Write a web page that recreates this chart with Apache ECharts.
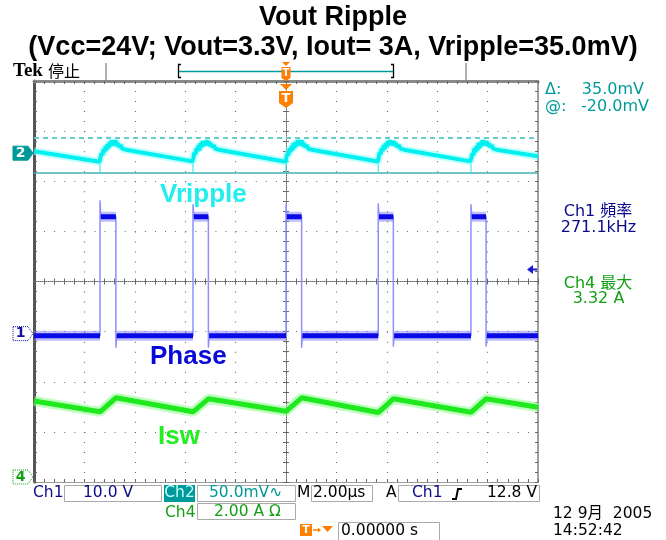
<!DOCTYPE html>
<html><head><meta charset="utf-8">
<script src="https://cdn.jsdelivr.net/npm/echarts@6/dist/echarts.min.js"></script>
<style>html,body{margin:0;padding:0;background:#fff}#c{width:666px;height:540px}</style>
</head><body><div id="c"></div>
<script>
// ---- data (time in µs relative to trigger) ----
const timeRangeUs = [-10, 10];          // 2.00 µs/div, 10 divisions
const divRange = [-4, 4];               // 8 vertical divisions
const chScale = { ch1: 10, ch2: 50, ch4: 2 };           // V/div, mV/div, A/div
const chGroundDiv = { ch1: -1.04, ch2: 2.56, ch4: -3.9 };
const triggerLevelV = 12.8;
const cursorMv = [15, -20];             // Δ 35.0mV, @ -20.0mV

// Phase (Ch1), volts
const phaseV = [
  [-10, -0.4], [-7.38, -0.4], [-7.38, 26.6], [-7.35, 23.3], [-6.75, 23.3], [-6.75, -2.8], [-6.72, -0.4],
  [-3.69, -0.4], [-3.69, 25.8], [-3.66, 23.3], [-3.08, 23.3], [-3.08, -2.8], [-3.05, -0.4],
  [0, -0.4], [0, 25.8], [0.03, 23.3], [0.62, 23.3], [0.62, -2.8], [0.65, -0.4],
  [3.66, -0.4], [3.66, 26.0], [3.69, 23.3], [4.26, 23.3], [4.26, -2.6], [4.29, -0.4],
  [7.34, -0.4], [7.34, 25.8], [7.37, 23.3], [7.94, 23.3], [7.94, -2.6], [7.97, -0.4], [10, -0.4]
];

// Vripple (Ch2, AC), millivolts
const rippleMv = [
  [-10, 2.0], [-7.40, -8.5], [-7.36, -4], [-7.32, 0], [-7.28, -2], [-7.24, 4], [-7.20, 1], [-7.16, 7], [-7.12, 3],
  [-7.08, 9], [-7.04, 5], [-7.00, 11], [-6.96, 7], [-6.92, 13], [-6.88, 8], [-6.84, 12], [-6.80, 9], [-6.76, 13],
  [-6.72, 7], [-6.68, 10], [-6.62, 6], [-6.56, 8], [-6.50, 4.5], [-6.44, 6], [-6.36, 3.5],
  [-3.71, -8.2], [-3.67, -4], [-3.63, 1], [-3.59, -1], [-3.55, 5], [-3.51, 2], [-3.47, 8], [-3.43, 3], [-3.39, 10],
  [-3.35, 6], [-3.31, 12], [-3.27, 7], [-3.23, 12], [-3.19, 8], [-3.15, 13], [-3.11, 9], [-3.07, 12], [-3.03, 7],
  [-2.99, 10], [-2.93, 6], [-2.87, 8], [-2.81, 4.5], [-2.75, 6], [-2.67, 3.5],
  [-0.02, -8.5], [0.02, -4], [0.06, 0], [0.10, -2], [0.14, 5], [0.18, 1], [0.22, 7], [0.26, 3], [0.30, 10],
  [0.34, 5], [0.38, 11], [0.42, 7], [0.46, 13], [0.50, 8], [0.54, 12], [0.58, 9], [0.62, 13], [0.66, 7],
  [0.70, 10], [0.76, 6], [0.82, 8], [0.88, 4.5], [0.94, 6], [1.02, 3.5],
  [3.64, -8.3], [3.68, -4], [3.72, 1], [3.76, -1], [3.80, 5], [3.84, 2], [3.88, 8], [3.92, 4], [3.96, 10],
  [4.00, 6], [4.04, 12], [4.08, 8], [4.12, 13], [4.16, 8], [4.20, 12], [4.24, 9], [4.28, 12], [4.32, 7],
  [4.36, 10], [4.42, 6], [4.48, 8], [4.54, 4.5], [4.60, 6], [4.68, 3.5],
  [7.32, -8.2], [7.36, -4], [7.40, 0], [7.44, -2], [7.48, 5], [7.52, 1], [7.56, 7], [7.60, 3], [7.64, 10],
  [7.68, 5], [7.72, 11], [7.76, 7], [7.80, 13], [7.84, 8], [7.88, 12], [7.92, 9], [7.96, 12], [8.00, 7],
  [8.04, 10], [8.10, 6], [8.16, 8], [8.22, 4.5], [8.28, 6], [8.36, 3.5], [10, -3.0]
];
// switching spikes on Vripple: [time, from mV, to mV]
const rippleSpikesMv = [[-7.38, -6, -20], [-3.69, -6, -20], [0, -6, -20], [3.66, -6, -20], [7.34, -6, -20]];

// Isw (Ch4), amps
const iswA = [
  [-10, 3.03], [-7.38, 2.6], [-6.75, 3.16], [-3.69, 2.6], [-3.08, 3.12], [0, 2.62], [0.62, 3.16],
  [3.66, 2.57], [4.26, 3.12], [7.34, 2.58], [7.94, 3.12], [10, 2.78]
];

// ---- helpers ----
const toDiv = (ch) => (p) => [p[0], chGroundDiv[ch] + p[1] / chScale[ch]];
function plateaus(pts, tol) {
  const out = [];
  for (let i = 0; i < pts.length - 1; i++) {
    const a = pts[i], b = pts[i + 1];
    if (b[0] > a[0] && Math.abs(b[1] - a[1]) <= tol) {
      const last = out[out.length - 1];
      if (!last || last[0] !== a[0] || last[1] !== a[1]) { if (out.length) out.push([a[0], '-']); out.push(a); }
      out.push(b);
    }
  }
  return out;
}
const phaseDiv = phaseV.map(toDiv('ch1'));
const phaseFlat = plateaus(phaseV, 1).map(p => p[1] === '-' ? p : toDiv('ch1')(p));
const rippleDiv = rippleMv.map(toDiv('ch2'));
const spikeSeg = [];
rippleSpikesMv.forEach((s, i) => {
  if (i) spikeSeg.push([s[0], '-']);
  spikeSeg.push(toDiv('ch2')([s[0], s[1]]), toDiv('ch2')([s[0], s[2]]));
});
const iswDiv = iswA.map(toDiv('ch4'));

const G = { left: 34, top: 81, width: 504, height: 401 };
const dotC = '#6a6a6a';
const tickBase = (inside) => ({ show: true, inside: inside, length: 3, lineStyle: { color: '#666', width: 1 } });
const minor = { show: true, splitNumber: 5, length: 3, lineStyle: { color: '#666', width: 1 } };
const xBase = { type: 'value', min: timeRangeUs[0], max: timeRangeUs[1], interval: 2, axisLabel: { show: false }, splitLine: { show: false } };
const yBase = { type: 'value', min: divRange[0], max: divRange[1], interval: 1, axisLabel: { show: false }, splitLine: { show: false } };
const hidden = { type: 'value', show: false, min: 0, max: 1, splitLine: { show: false } };

const line = (data, color, width, opacity, z) => ({
  type: 'line', xAxisIndex: 0, yAxisIndex: 0, data: data, showSymbol: false, symbol: 'none',
  connectNulls: false, silent: true, z: z, lineStyle: { color: color, width: width, opacity: opacity }
});

const chart = echarts.init(document.getElementById('c'), null, { renderer: 'canvas' });
const rippleCore = line(rippleDiv, '#00f0f0', 4, 1, 9);
rippleCore.markLine = {
  silent: true, symbol: 'none', label: { show: false }, animation: false,
  data: [
    { yAxis: chGroundDiv.ch2 + cursorMv[0] / chScale.ch2, lineStyle: { color: '#66cccc', width: 2, type: [5, 4] } },
    { yAxis: chGroundDiv.ch2 + cursorMv[1] / chScale.ch2, lineStyle: { color: '#3fb0b0', width: 1.5, type: 'solid' } }
  ]
};
chart.setOption({
  animation: false,
  grid: [
    Object.assign({}, G),
    { left: G.left, top: G.top, width: G.width, height: G.height / 2 },
    { left: G.left, top: G.top + G.height / 2, width: G.width, height: G.height / 2 },
    { left: G.left, top: G.top, width: G.width / 2, height: G.height },
    { left: G.left + G.width / 2, top: G.top, width: G.width / 2, height: G.height }
  ],
  xAxis: [
    Object.assign({}, xBase, { gridIndex: 0, position: 'bottom',
      axisLine: { show: true, onZero: false, lineStyle: { color: '#9a9a9a', width: 1 } },
      axisTick: tickBase(true), minorTick: minor,
      splitLine: { show: true, lineStyle: { color: dotC, width: 1.2, type: [1, 9.025] } } }),
    Object.assign({}, xBase, { gridIndex: 0, position: 'top',
      axisLine: { show: true, onZero: false, lineStyle: { color: '#8a8a8a', width: 3 } },
      axisTick: tickBase(true), minorTick: minor }),
    Object.assign({}, xBase, { gridIndex: 1, position: 'bottom',
      axisLine: { show: true, onZero: false, lineStyle: { color: '#666', width: 1, type: [1, 1] } },
      axisTick: tickBase(true), minorTick: minor }),
    Object.assign({}, xBase, { gridIndex: 2, position: 'top',
      axisLine: { show: false, onZero: false }, axisTick: tickBase(true), minorTick: minor }),
    Object.assign({}, hidden, { gridIndex: 3 }),
    Object.assign({}, hidden, { gridIndex: 4 })
  ],
  yAxis: [
    Object.assign({}, yBase, { gridIndex: 0, position: 'left',
      axisLine: { show: true, onZero: false, lineStyle: { color: '#555', width: 3 } },
      axisTick: tickBase(true), minorTick: minor,
      splitLine: { show: true, lineStyle: { color: dotC, width: 1.2, type: [1, 9.08] } } }),
    Object.assign({}, yBase, { gridIndex: 0, position: 'right',
      axisLine: { show: true, onZero: false, lineStyle: { color: '#a0a0a0', width: 2 } },
      axisTick: tickBase(true), minorTick: minor }),
    Object.assign({}, hidden, { gridIndex: 1 }),
    Object.assign({}, hidden, { gridIndex: 2 }),
    Object.assign({}, yBase, { gridIndex: 3, position: 'right',
      axisLine: { show: true, onZero: false, lineStyle: { color: '#666', width: 1, type: [1, 1] } },
      axisTick: tickBase(true), minorTick: minor }),
    Object.assign({}, yBase, { gridIndex: 4, position: 'left',
      axisLine: { show: false, onZero: false }, axisTick: tickBase(true), minorTick: minor })
  ],
  series: [
    line(iswDiv, '#8cff8c', 10, 0.55, 3),
    line(iswDiv, '#1fe81f', 5, 1, 4),
    line(phaseDiv, '#8f8fff', 1.5, 1, 5),
    line(phaseFlat, '#7070ff', 10, 0.45, 6),
    line(phaseFlat, '#0a0ae6', 5, 1, 7),
    line(spikeSeg, '#40e8e8', 1.2, 1, 6),
    line(rippleDiv, '#90ffff', 8, 0.55, 8),
    rippleCore
  ]
});

// ---- decorations / texts ----
const px = (t, d) => chart.convertToPixel({ xAxisIndex: 0, yAxisIndex: 0 }, [t, d]);
const SC = '"DejaVu Sans", "Noto Sans CJK SC", sans-serif';
const T = (x, y, text, font, fill, align) => ({ type: 'text', x: x, y: y, z: 100,
  style: { text: text, font: font, fill: fill, textAlign: align || 'left', textVerticalAlign: 'middle' } });
const R = (x, y, w, h, fill, stroke) => ({ type: 'rect', z: 90, shape: { x: x, y: y, width: w, height: h },
  style: { fill: fill, stroke: stroke || null, lineWidth: 1 } });
const PL = (pts, fill, stroke, dash) => ({ type: 'polygon', z: 95, shape: { points: pts },
  style: { fill: fill, stroke: stroke || null, lineWidth: 1, lineDash: dash || null } });
const LN = (pts, stroke, w) => ({ type: 'polyline', z: 95, shape: { points: pts }, style: { stroke: stroke, lineWidth: w, fill: null } });

const g = [];
// titles
g.push(T(333, 18, 'Vout Ripple', 'bold 27px "Liberation Sans", Arial, sans-serif', '#000', 'center'));
g.push(T(333, 48, '(Vcc=24V; Vout=3.3V, Iout= 3A, Vripple=35.0mV)', 'bold 27px "Liberation Sans", Arial, sans-serif', '#000', 'center'));
// Tek header
g.push(T(13, 71, 'Tek', 'bold 19px "Liberation Serif", serif', '#000'));
g.push(T(48, 71, '停止', '16px "Noto Sans CJK SC", sans-serif', '#000'));
g.push(LN([[106, 63], [106, 80]], '#b0b0b0', 2));
g.push(LN([[466, 63], [466, 80]], '#b0b0b0', 2));
g.push(LN([[181, 64.5], [178.5, 64.5], [178.5, 77.5], [181, 77.5]], '#000', 1.3));
g.push(LN([[391, 64.5], [393.5, 64.5], [393.5, 77.5], [391, 77.5]], '#000', 1.3));
g.push(LN([[179, 71.5], [393, 71.5]], '#009999', 1.5));
const trigX = px(0, 0)[0];
g.push(PL([[trigX - 4, 62], [trigX + 4, 62], [trigX, 66]], '#ff7f00'));
g.push(PL([[trigX - 4.5, 67], [trigX + 4.5, 67], [trigX + 4.5, 78], [trigX, 81], [trigX - 4.5, 78]], '#ff7f00'));
g.push(T(trigX, 73.5, 'T', 'bold 10px "DejaVu Sans", sans-serif', '#fff', 'center'));
g.push(PL([[trigX - 6, 84], [trigX + 6, 84], [trigX, 90]], '#ff7f00'));
g.push(PL([[trigX - 7, 91], [trigX + 7, 91], [trigX + 7, 103], [trigX, 108], [trigX - 7, 103]], '#ff7f00'));
g.push(T(trigX, 99, 'T', 'bold 13px "DejaVu Sans", sans-serif', '#fff', 'center'));
// channel markers
const mk = (y) => [[13, y - 7], [28, y - 7], [33, y], [28, y + 7], [13, y + 7]];
const y2 = px(-10, chGroundDiv.ch2)[1], y1 = px(-10, chGroundDiv.ch1)[1], y4 = px(-10, chGroundDiv.ch4)[1];
g.push(PL(mk(y2), '#009999', '#009999'));
g.push(T(20.5, y2, '2', 'bold 14px "DejaVu Sans", sans-serif', '#fff', 'center'));
g.push(PL(mk(y1), '#fff', '#1010a0', [1, 1]));
g.push(T(20.5, y1, '1', 'bold 14px "DejaVu Sans", sans-serif', '#1010a0', 'center'));
g.push(PL(mk(y4), '#fff', '#10a010', [1, 1]));
g.push(T(20.5, y4, '4', 'bold 14px "DejaVu Sans", sans-serif', '#10a010', 'center'));
// trigger level arrow
const yT = px(10, chGroundDiv.ch1 + triggerLevelV / chScale.ch1)[1];
g.push(PL([[527, yT], [533, yT - 4.5], [533, yT + 4.5]], '#1a1acc'));
g.push(LN([[532, yT], [537, yT]], '#1a1acc', 2));
// waveform labels
g.push(T(160, 195, 'Vripple', 'bold 26px "Liberation Sans", Arial, sans-serif', '#22eeee'));
g.push(T(150, 357, 'Phase', 'bold 26px "Liberation Sans", Arial, sans-serif', '#0a0ad8'));
g.push(T(158, 437, 'Isw', 'bold 26px "Liberation Sans", Arial, sans-serif', '#22ee22'));
// right readouts
const RF = '16px ' + SC;
g.push(T(545, 90, 'Δ:', RF, '#009a9a'));
g.push(T(644, 90, '35.0mV', RF, '#009a9a', 'right'));
g.push(T(545, 107, '@:', RF, '#009a9a'));
g.push(T(649, 107, '-20.0mV', RF, '#009a9a', 'right'));
g.push(T(598, 212, 'Ch1 頻率', RF, '#0a0a8a', 'center'));
g.push(T(598.5, 228, '271.1kHz', RF, '#0a0a8a', 'center'));
g.push(T(598, 284, 'Ch4 最大', RF, '#14a014', 'center'));
g.push(T(598.5, 299, '3.32 A', RF, '#14a014', 'center'));
// bottom status
const BF = '15.5px ' + SC;
g.push(T(33, 493, 'Ch1', BF, '#0a0a8a'));
g.push(R(64.5, 485.5, 97, 16, '#fff', '#aaaaaa'));
g.push(T(83, 493, '10.0 V', BF, '#0a0a8a'));
g.push(R(164, 485, 31, 17, '#009999'));
g.push(T(179.5, 493, 'Ch2', BF, '#bfffff', 'center'));
g.push(R(197.5, 485.5, 98, 16, '#fff', '#aaaaaa'));
g.push(T(209, 493, '50.0mV∿', BF, '#009a9a'));
g.push(T(297, 493, 'M', BF, '#000'));
g.push(R(311.5, 485.5, 61, 16, '#fff', '#aaaaaa'));
g.push(T(313, 493, '2.00µs', BF, '#000'));
g.push(T(386, 493, 'A', BF, '#000'));
g.push(R(398.5, 485.5, 141, 16, '#fff', '#aaaaaa'));
g.push(T(412, 493, 'Ch1', BF, '#0a0a8a'));
g.push(LN([[452, 499], [456, 499], [458, 489], [462, 489]], '#000', 2));
g.push(T(537, 493, '12.8 V', BF, '#000', 'right'));
g.push(T(165, 513, 'Ch4', BF, '#14a014'));
g.push(R(197.5, 503.5, 98, 16, '#fff', '#aaaaaa'));
g.push(T(214, 512, '2.00 A Ω', BF, '#14a014'));
g.push(R(300, 524, 12, 12, '#ff7f00'));
g.push(T(306, 530, 'T', 'bold 11px "DejaVu Sans", sans-serif', '#fff', 'center'));
g.push(LN([[313, 530], [320, 530]], '#ff7f00', 1.5));
g.push(PL([[318, 527.5], [321, 530], [318, 532.5]], '#ff7f00'));
g.push(PL([[322, 526], [333, 526], [327.5, 532]], '#ff7f00'));
g.push(R(338.5, 522.5, 101, 18, '#fff', '#aaaaaa'));
g.push(T(341, 531, '0.00000 s', BF, '#000'));
g.push(T(553, 514, '12 9月  2005', BF, '#000'));
g.push(T(553, 531, '14:52:42', BF, '#000'));

chart.setOption({ graphic: g });
</script></body></html>
